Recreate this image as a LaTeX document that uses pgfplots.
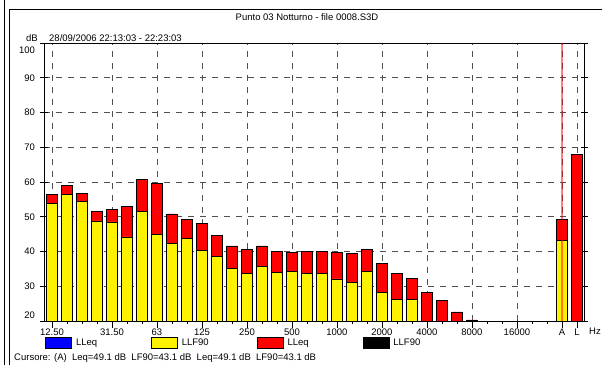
\documentclass[border=0pt]{standalone}
\usepackage{fontspec}
\setmainfont{Liberation Sans}
\usepackage{pgfplots}
\pgfplotsset{compat=1.18}
\usepackage{pgfplotstable}

\newcommand\ff{\fontsize{9.5}{11}\selectfont}
\definecolor{gridgray}{RGB}{80,80,80}

% LLeq (red) per 1/3-octave band index; A at 34, L at 35
\pgfplotstableread{
x leq
0 56.3
1 59.0
2 56.8
3 51.6
4 52.2
5 52.9
6 60.8
7 59.7
8 50.8
9 49.1
10 48.0
11 44.7
12 41.6
13 40.7
14 41.6
15 39.9
16 39.7
17 40.0
18 39.9
19 39.7
20 39.5
21 40.7
22 36.6
23 33.8
24 32.3
25 28.2
26 25.9
27 22.6
28 20.3
34 49.1
35 68.0
}\leqdata

% LLF90 (yellow)
\pgfplotstableread{
x lf
0 53.7
1 56.3
2 54.5
3 48.8
4 48.5
5 44.2
6 51.4
7 45.0
8 42.2
9 43.8
10 40.3
11 38.6
12 35.1
13 33.7
14 35.6
15 34.0
16 34.3
17 33.8
18 33.6
19 32.1
20 31.2
21 34.2
22 28.1
23 26.1
24 26.3
34 43.1
}\lfdata

\pgfplotsset{boxleg/.style={legend image code/.code={%
  \draw[##1,draw=black,line width=0.8pt] (0pt,-5.5pt) rectangle (26pt,5.5pt);}}}

\begin{document}
\begin{tikzpicture}
\useasboundingbox (0pt,0pt) rectangle (602pt,-365pt);
\draw[line width=0.9pt] (4pt,0pt) -- (4pt,-365pt);
\draw[line width=0.9pt] (9pt,-365pt) -- (9pt,-9.3pt) -- (602pt,-9.3pt);
\node[font=\ff, anchor=base, inner sep=0pt] at (307pt,-20pt) {Punto 03 Notturno - file 0008.S3D};
\node[font=\ff, anchor=base west, inner sep=0pt] at (26pt,-41.5pt) {dB};
\node[font=\ff, anchor=base west, inner sep=0pt] at (49pt,-41.5pt) {28/09/2006 22:13:03 - 22:23:03};
\node[font=\ff, anchor=base west, inner sep=0pt] at (589pt,-334.5pt) {Hz};
\node[font=\ff, anchor=base west, inner sep=0pt] at (14pt,-360.7pt) {Cursore: (A)\ \ Leq=49.1 dB\ \ LF90=43.1 dB\ \ Leq=49.1 dB\ \ LF90=43.1 dB};
\begin{axis}[
  at={(44pt,-43pt)}, anchor=north west,
  scale only axis, width=540pt, height=278pt,
  xmin=-0.53, xmax=35.47, ymin=20, ymax=100,
  axis line style={line width=0.9pt, black},
  ytick={20,30,...,100},
  yticklabels={\raisebox{5.5pt}[\height][\depth]{20},30,40,50,60,70,80,90,\raisebox{-7pt}[\height][\depth]{100}},
  xtick={0,4,7,10,13,16,19,22,25,28,31,34,35},
  xticklabels={12.50,31.50,63,125,250,500,1000,2000,4000,8000,16000,A,L},
  minor xtick={0,1,...,35},
  xtick pos=bottom,
  grid=major,
  major grid style={gridgray, dash pattern=on 6pt off 6pt, line width=0.8pt},
  xtick align=outside, ytick align=center,
  major tick length=7pt, minor tick length=3pt,
  tick style={black, line width=0.7pt},
  ticklabel style={font=\ff},
  yticklabel style={xshift=-2pt},
  xticklabel style={yshift=2.5pt},
  ybar, bar width=10.5pt, bar shift=0pt,
  legend columns=4,
  legend style={at={(axis description cs:0,0)}, anchor=north west,
    xshift=1pt, yshift=-16pt, draw=none, fill=none, inner sep=0pt,
    nodes={inner sep=0pt, font=\ff},
    /tikz/every odd column/.append style={column sep=4pt},
    /tikz/every even column/.append style={column sep=5pt}},
  legend cell align=left,
]
\addplot[fill=red, draw=black, line width=0.8pt, forget plot] table[x=x,y=leq] {\leqdata};
\addplot[fill=yellow, draw=black, line width=0.8pt, forget plot] table[x=x,y=lf] {\lfdata};
\draw[red, opacity=0.5, line width=2pt] (axis cs:34,20) -- (axis cs:34,100);
\addlegendimage{boxleg, fill=blue}
\addlegendentry{\makebox[70pt][l]{LLeq}}
\addlegendimage{boxleg, fill=yellow}
\addlegendentry{\makebox[70pt][l]{LLF90}}
\addlegendimage{boxleg, fill=red}
\addlegendentry{\makebox[70pt][l]{LLeq}}
\addlegendimage{boxleg, fill=black}
\addlegendentry{\makebox[70pt][l]{LLF90}}
\end{axis}
\end{tikzpicture}
\end{document}
